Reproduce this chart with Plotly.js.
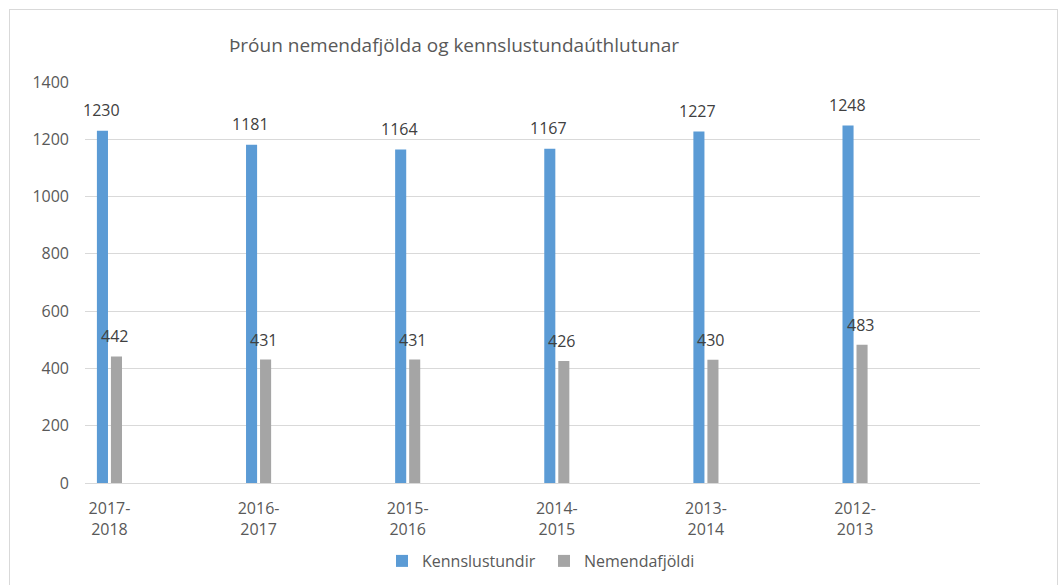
<!DOCTYPE html>
<html>
<head>
<meta charset="utf-8">
<script src="https://cdn.plot.ly/plotly-3.0.1.min.js"></script>
<style>
html,body{margin:0;padding:0;background:#fff;}
#wrap{position:relative;width:1058px;height:585px;}
#chart{position:absolute;left:0;top:0;width:1058px;height:585px;}
#frame{position:absolute;left:9px;top:9px;width:1047px;height:590px;border:1px solid #d9d9d9;pointer-events:none;}
</style>
</head>
<body>
<div id="wrap"><div id="chart"></div><div id="frame"></div></div>
<script>
const categories = ["2017-<br>2018", "2016-<br>2017", "2015-<br>2016", "2014-<br>2015", "2013-<br>2014", "2012-<br>2013"];
const kennslustundir = [1230, 1181, 1164, 1167, 1227, 1248];
const nemendafjoldi = [442, 431, 431, 426, 430, 483];
const seriesNames = ["Kennslustundir", "Nemendafjöldi"];
const yTicks = [0, 200, 400, 600, 800, 1000, 1200, 1400];

const FONT = "Open Sans, Noto Sans, sans-serif";
const blue = "#5B9BD5", gray = "#A5A5A5";

const traces = [
  {type: "bar", name: seriesNames[0], x: categories, y: kennslustundir, marker: {color: blue}, hoverinfo: "skip"},
  {type: "bar", name: seriesNames[1], x: categories, y: nemendafjoldi, marker: {color: gray}, hoverinfo: "skip"}
];

const annotations = [];
categories.forEach((c, i) => {
  annotations.push({x: c, y: kennslustundir[i], text: String(kennslustundir[i]), showarrow: false,
    xref: "x", yref: "y", xshift: -8, yshift: 21, yanchor: "middle",
    font: {family: FONT, size: 16, color: "#404040"}});
  annotations.push({x: c, y: nemendafjoldi[i], text: String(nemendafjoldi[i]), showarrow: false,
    xref: "x", yref: "y", xshift: 5, yshift: 20, yanchor: "middle",
    font: {family: FONT, size: 16, color: "#404040"}});
});

const layout = {
  width: 1058, height: 585,
  margin: {l: 85, r: 78, t: 82, b: 102, autoexpand: false},
  paper_bgcolor: "rgba(0,0,0,0)", plot_bgcolor: "rgba(0,0,0,0)",
  font: {family: FONT, color: "#595959"},
  title: {text: "Þróun nemendafjölda og kennslustundaúthlutunar", x: 454/1058, xanchor: "center",
    xref: "container", yref: "container", y: 1 - 45/585, yanchor: "middle",
    font: {family: FONT, size: 19, color: "#595959"}},
  barmode: "group", bargap: 0.812, bargroupgap: 0.21,
  xaxis: {type: "category", range: [-0.164, 5.838], showgrid: false, zeroline: false, showline: false, automargin: false,
    ticks: "", tickfont: {family: FONT, size: 16, color: "#595959"}, ticklabelstandoff: 14, fixedrange: true},
  yaxis: {range: [0, 1400], tickvals: yTicks, ticktext: yTicks.map(String), showgrid: true, gridcolor: "#d9d9d9", gridwidth: 1,
    zeroline: true, zerolinecolor: "#d9d9d9", zerolinewidth: 1, showline: false, ticks: "", automargin: false,
    tickfont: {family: FONT, size: 16, color: "#595959"}, ticklabelstandoff: 15, fixedrange: true},
  showlegend: true,
  legend: {orientation: "h", x: (382 - 85) / 895, xanchor: "left", y: -0.1945, yanchor: "middle",
    font: {family: FONT, size: 16, color: "#595959"}, itemwidth: 30, entrywidth: 117, entrywidthmode: "pixels", traceorder: "normal"},
  annotations: annotations
};

Plotly.newPlot("chart", traces, layout, {displayModeBar: false, staticPlot: true});
</script>
</body>
</html>
